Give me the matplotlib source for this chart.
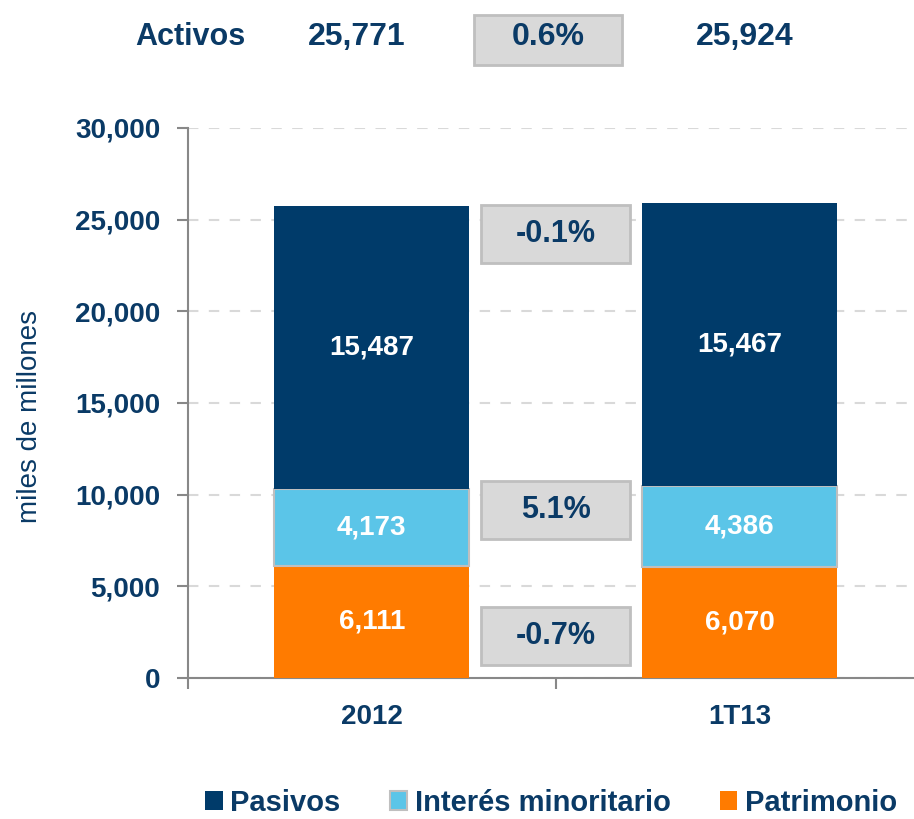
import matplotlib
matplotlib.use('Agg')
import matplotlib.pyplot as plt
from matplotlib.patches import Rectangle

# datos del balance (miles de millones)
categorias = ['2012', '1T13']
patrimonio = [6111, 6070]
interes_min = [4173, 4386]
pasivos = [15487, 15467]
activos = [25771, 25924]
var_activos = '0.6%'
var_pasivos = '-0.1%'
var_interes = '5.1%'
var_patrimonio = '-0.7%'

AZUL = '#003b6a'
CELESTE = '#5bc5e8'
NARANJA = '#ff7b00'
TXT = '#0a3a66'
GRIS_CAJA = '#d9d9d9'
BORDE_CAJA = '#bfbfbf'

plt.rcParams['font.family'] = ['Liberation Sans', 'DejaVu Sans']

fig = plt.figure(figsize=(9.14, 8.19), dpi=100)
ax = fig.add_axes([188 / 914, 1 - 678 / 819, (914 - 188) / 914, 550 / 819])

x = list(range(len(categorias)))
w = 0.53
base2 = [p + i for p, i in zip(patrimonio, interes_min)]
ax.bar(x, patrimonio, w, color=NARANJA, zorder=3, label='Patrimonio')
ax.bar(x, interes_min, w, bottom=patrimonio, color=CELESTE, edgecolor=BORDE_CAJA,
       linewidth=1.5, zorder=3, label='Interés minoritario')
ax.bar(x, pasivos, w, bottom=base2, color=AZUL, zorder=3, label='Pasivos')

# etiquetas dentro de las barras
for i in x:
    ax.text(i, patrimonio[i] / 2, f'{patrimonio[i]:,}', ha='center', va='center',
            color='white', fontsize=20, fontweight='bold', zorder=4)
    ax.text(i, patrimonio[i] + interes_min[i] / 2, f'{interes_min[i]:,}', ha='center',
            va='center', color='white', fontsize=20, fontweight='bold', zorder=4)
    ax.text(i, base2[i] + pasivos[i] / 2, f'{pasivos[i]:,}', ha='center', va='center',
            color='white', fontsize=20, fontweight='bold', zorder=4)

# cajas de variacion entre barras
cajas = [(24218, var_pasivos), (9164, var_interes), (2264, var_patrimonio)]
for yc, txt in cajas:
    ax.add_patch(Rectangle((0.5 - 0.203, yc - 1582), 0.406, 3164, facecolor=GRIS_CAJA,
                           edgecolor=BORDE_CAJA, linewidth=2, zorder=4))
    ax.text(0.5, yc, txt, ha='center', va='center', color=TXT, fontsize=22,
            fontweight='bold', zorder=5)

ax.set_yticks(range(0, 30001, 5000))
ax.set_yticklabels([f'{v:,}' for v in range(0, 30001, 5000)], fontsize=20,
                   fontweight='bold', color=TXT)
ax.set_xticks(x)
ax.set_xticklabels(categorias, fontsize=20, fontweight='bold', color=TXT)
ax.set_xticks([-0.5, 0.5], minor=True)
ax.set_xlim(-0.5, 1.475)
ax.set_ylim(0, 30000)
ax.tick_params(axis='x', which='major', length=0, pad=19)
ax.tick_params(axis='x', which='minor', length=8, width=1.5, color='#888888')
ax.tick_params(axis='y', length=8, width=1.5, color='#888888', pad=12)
ax.yaxis.grid(True, linestyle=(0, (5, 5)), color='#d9d9d9', linewidth=1.5, zorder=0)
ax.set_axisbelow(True)
for s in ['top', 'right']:
    ax.spines[s].set_visible(False)
for s in ['left', 'bottom']:
    ax.spines[s].set_color('#888888')
    ax.spines[s].set_linewidth(1.5)
ax.set_ylabel('miles de millones', fontsize=20, color=TXT)
ax.yaxis.set_label_coords(-0.2, 0.476)

# fila superior de activos
yt = 1 - 37 / 819
fig.text(190 / 914, yt, 'Activos', ha='center', va='center', color=TXT, fontsize=22,
         fontweight='bold')
fig.text(357 / 914, yt, f'{activos[0]:,}', ha='center', va='center', color=TXT,
         fontsize=23, fontweight='bold')
fig.text(745 / 914, yt, f'{activos[1]:,}', ha='center', va='center', color=TXT,
         fontsize=23, fontweight='bold')
fig.patches.append(Rectangle((474 / 914, 1 - 65 / 819), 148 / 914, 50 / 819,
                             transform=fig.transFigure, facecolor=GRIS_CAJA,
                             edgecolor=BORDE_CAJA, linewidth=2))
fig.text(548 / 914, yt, var_activos, ha='center', va='center', color=TXT, fontsize=23,
         fontweight='bold')

# leyenda
h, l = ax.get_legend_handles_labels()
leg = fig.legend(h[::-1], l[::-1], loc='center', bbox_to_anchor=(551 / 914, 1 - 803 / 819),
                 ncol=3, frameon=False, handlelength=0.6, handleheight=0.6,
                 handletextpad=0.25, columnspacing=1.7,
                 prop={'weight': 'bold', 'size': 21})
for t in leg.get_texts():
    t.set_color(TXT)

fig.savefig('out.png', dpi=100)
